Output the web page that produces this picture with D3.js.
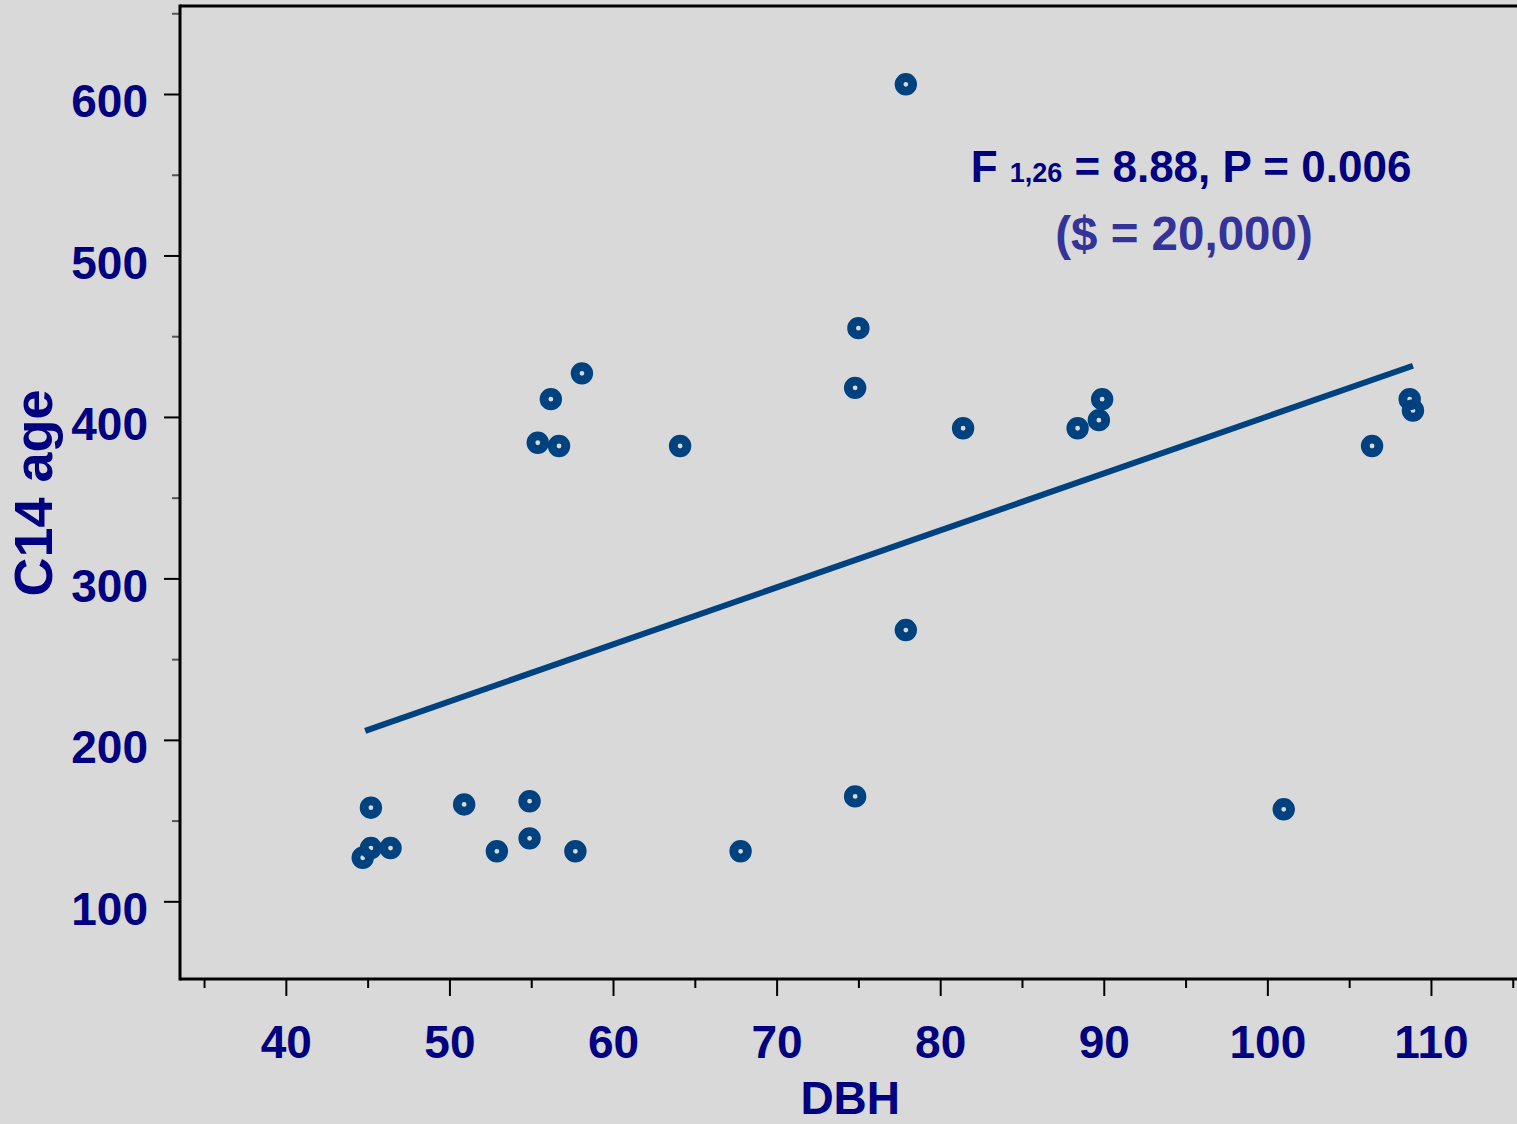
<!DOCTYPE html>
<html>
<head>
<meta charset="utf-8">
<script src="https://cdn.jsdelivr.net/npm/d3@7"></script>
<style>
  html, body { margin: 0; padding: 0; background: #d9d9d9; }
  svg { display: block; }
  text { font-family: "Liberation Sans", Arial, sans-serif; font-weight: bold; }
</style>
</head>
<body>
<svg id="chart" width="1517" height="1124"></svg>
<script>
// Tree diameter (DBH) versus radiocarbon age
const dbh = [44.7, 45.2, 45.2, 46.4, 50.9, 52.9, 54.9, 54.9, 55.4, 56.2, 56.7, 57.7, 58.1, 64.1,
             67.8, 74.8, 75.0, 74.8, 77.9, 77.9, 81.4, 88.4, 89.7, 89.9, 101.0, 106.4, 108.7, 108.9];
const c14Age = [127, 133, 158, 133, 160, 131, 162, 139, 384, 411, 382, 131, 427, 382,
                131, 418, 455, 165, 606, 268, 393, 393, 398, 411, 157, 382, 411, 404];

// Fitted regression line
const fitIntercept = 47.3;
const fitSlope = 3.53;
const fitRange = [44.85, 108.9];

const xTicks = [40, 50, 60, 70, 80, 90, 100, 110];
const xMinorTicks = [35, 45, 55, 65, 75, 85, 95, 105, 115];
const yTicks = [100, 200, 300, 400, 500, 600];
const yMinorTicks = [150, 250, 350, 450, 550, 650];

const statLine = { main: "F", sub: "1,26", rest: " = 8.88, P = 0.006" };
const costLine = "($ = 20,000)";

const svg = d3.select("#chart");
const W = 1517, H = 1124;
const plotLeft = 180, plotRight = 1517, plotTop = 6, plotBottom = 979;

svg.append("rect").attr("width", W).attr("height", H).attr("fill", "#d9d9d9");

const x = d3.scaleLinear().domain([33.53, 115.26]).range([plotLeft, plotRight]);
const y = d3.scaleLinear().domain([51.9, 654.5]).range([plotBottom, plotTop]);

const navy = "#000080";
const markColor = "#00417f";
const fontFam = "'Liberation Sans', Arial, sans-serif";

// Top edge of the frame
svg.append("line").attr("x1", plotLeft).attr("x2", plotRight).attr("y1", plotTop).attr("y2", plotTop)
  .attr("stroke", "#000").attr("stroke-width", 3);

// X axis: minor then major ticks
const xMinorG = svg.append("g").attr("transform", `translate(0,${plotBottom})`)
  .call(d3.axisBottom(x).tickValues(xMinorTicks).tickSize(9).tickFormat(""));
xMinorG.select(".domain").remove();
xMinorG.selectAll(".tick line").attr("stroke", "#000").attr("stroke-width", 2);

const xMajor = svg.append("g").attr("transform", `translate(0,${plotBottom})`)
  .call(d3.axisBottom(x).tickValues(xTicks).tickSize(17).tickPadding(62).tickFormat(d3.format("d")));
xMajor.select(".domain").remove();
xMajor.selectAll(".tick line").attr("stroke", "#000").attr("stroke-width", 2);
xMajor.selectAll(".tick text")
  .attr("fill", navy).attr("font-size", 46).attr("dy", 0)
  .attr("font-family", fontFam).attr("font-weight", "bold");

// Y axis: minor then major ticks
const yMinorG = svg.append("g").attr("transform", `translate(${plotLeft},0)`)
  .call(d3.axisLeft(y).tickValues(yMinorTicks).tickSize(8).tickFormat(""));
yMinorG.select(".domain").remove();
yMinorG.selectAll(".tick line").attr("stroke", "#555").attr("stroke-width", 2);

const yMajor = svg.append("g").attr("transform", `translate(${plotLeft},0)`)
  .call(d3.axisLeft(y).tickValues(yTicks).tickSize(16).tickPadding(16).tickFormat(d3.format("d")));
yMajor.select(".domain").remove();
yMajor.selectAll(".tick line").attr("stroke", "#000").attr("stroke-width", 2);
yMajor.selectAll(".tick text")
  .attr("fill", navy).attr("font-size", 46).attr("dy", 23)
  .attr("font-family", fontFam).attr("font-weight", "bold");

// Axis lines
svg.append("line").attr("x1", plotLeft).attr("x2", plotRight).attr("y1", plotBottom).attr("y2", plotBottom)
  .attr("stroke", "#000").attr("stroke-width", 3);
svg.append("line").attr("x1", plotLeft).attr("x2", plotLeft).attr("y1", plotTop - 1.5).attr("y2", plotBottom + 1.5)
  .attr("stroke", "#000").attr("stroke-width", 3);

// Axis titles
svg.append("text").attr("x", x(74.5)).attr("y", 1114)
  .attr("text-anchor", "middle").attr("fill", navy).attr("font-size", 46).text("DBH");
svg.append("text").attr("transform", "translate(52,493) rotate(-90)")
  .attr("text-anchor", "middle").attr("fill", navy).attr("font-size", 54).text("C14 age");

// Regression line
svg.append("line")
  .attr("x1", x(fitRange[0])).attr("y1", y(fitIntercept + fitSlope * fitRange[0]))
  .attr("x2", x(fitRange[1])).attr("y2", y(fitIntercept + fitSlope * fitRange[1]))
  .attr("stroke", markColor).attr("stroke-width", 6);

// Ring markers
svg.append("g").selectAll("circle")
  .data(dbh.map((d, i) => [d, c14Age[i]]))
  .join("circle")
  .attr("cx", d => x(d[0])).attr("cy", d => y(d[1]))
  .attr("r", 6.8).attr("fill", "none")
  .attr("stroke", markColor).attr("stroke-width", 8.8);

// Statistics annotation
const stat = svg.append("text").attr("x", 1191).attr("y", 182)
  .attr("text-anchor", "middle").attr("fill", navy).attr("font-size", 44);
stat.append("tspan").text(statLine.main + " ");
stat.append("tspan").attr("font-size", 27).text(statLine.sub);
stat.append("tspan").text(statLine.rest);

svg.append("text").attr("x", 1184).attr("y", 250)
  .attr("text-anchor", "middle").attr("fill", "#333399").attr("font-size", 47.5).text(costLine);
</script>
</body>
</html>
